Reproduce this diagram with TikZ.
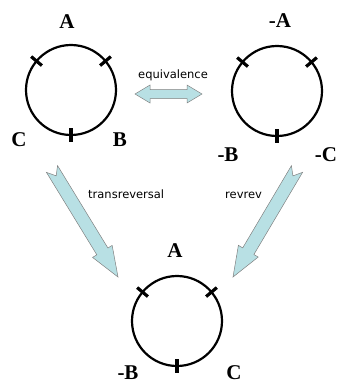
\documentclass[tikz,border=0pt]{standalone}
\usepackage{fontspec}
\setmainfont{Liberation Serif}
\newfontfamily\capfont{DejaVu Sans}
\usetikzlibrary{calc}

% fat arrow with notched tail, from #1 (tail) to #2 (tip)
\newcommand\fatarrow[2]{%
  \draw[fat] ($(#1)!6.5pt!90:(#2)$)
    -- ($(#2)!30pt!(#1)!6.5pt!90:(#2)$) -- ($(#2)!30pt!(#1)!11.5pt!90:(#2)$)
    -- (#2)
    -- ($(#2)!30pt!(#1)!11.5pt!-90:(#2)$) -- ($(#2)!30pt!(#1)!6.5pt!-90:(#2)$)
    -- ($(#1)!6.5pt!-90:(#2)$) -- ($(#1)!8pt!(#2)$) -- cycle;}
% fat arrow with two heads
\newcommand\dblarrow[2]{%
  \draw[fat] (#1)
    -- ($(#1)!15pt!(#2)!9pt!90:(#2)$) -- ($(#1)!15pt!(#2)!4.5pt!90:(#2)$)
    -- ($(#2)!15pt!(#1)!4.5pt!90:(#2)$) -- ($(#2)!15pt!(#1)!9pt!90:(#2)$)
    -- (#2)
    -- ($(#2)!15pt!(#1)!9pt!-90:(#2)$) -- ($(#2)!15pt!(#1)!4.5pt!-90:(#2)$)
    -- ($(#1)!15pt!(#2)!4.5pt!-90:(#2)$) -- ($(#1)!15pt!(#2)!9pt!-90:(#2)$)
    -- cycle;}

\begin{document}
\begin{tikzpicture}[x=1pt, y=-1pt,
    ring/.style={circle, draw, line width=2.2pt, minimum size=90pt, inner sep=0pt},
    tickmark/.style={line width=3.2pt},
    lab/.style={font=\fontsize{21}{24}\selectfont\bfseries, inner sep=0pt},
    captext/.style={font=\capfont\fontsize{11.5}{13}\selectfont, inner sep=0pt},
    fat/.style={fill={rgb,255:red,184;green,224;blue,228}, draw=gray, line width=0.5pt, line join=miter}]
  \useasboundingbox (0,0) rectangle (337,383);

  % --- circles ---
  \node[ring] (c1) at (71,90) {};
  \node[ring] (c2) at (277,91) {};
  \node[ring] (c3) at (177,321) {};
  \foreach \c in {c1,c2,c3} {
    \foreach \a in {40,140,270}
      \draw[tickmark] ($(\c.center)!38pt!(\c.\a)$) -- ($(\c.center)!52pt!(\c.\a)$);
  }

  % --- labels ---
  \node[lab] (a1) at ([shift={(-4,-68)}]c1.center) {A};
  \node[lab] (b1) at ([shift={(49,50)}]c1.center) {B};
  \node[lab] (k1) at ([shift={(-52,50)}]c1.center) {C};
  \node[lab] (a2) at ([shift={(3,-70)}]c2.center) {-A};
  \node[lab] (b2) at ([shift={(-49,64)}]c2.center) {-B};
  \node[lab] (k2) at ([shift={(49,64)}]c2.center) {-C};
  \node[lab] (a3) at ([shift={(-2,-70)}]c3.center) {A};
  \node[lab] (b3) at ([shift={(-49,52)}]c3.center) {-B};
  \node[lab] (k3) at ([shift={(57,52)}]c3.center) {C};

  % --- arrows ---
  \coordinate (eqa) at (135,94);  \coordinate (eqb) at (202,94);
  \coordinate (trs) at (52,169);  \coordinate (tre) at (118,277);
  \coordinate (rvs) at (297,169); \coordinate (rve) at (233,277);
  \dblarrow{eqa}{eqb}
  \fatarrow{trs}{tre}
  \fatarrow{rvs}{rve}
  \node[captext, anchor=base west] (eq) at (138,78) {equivalence};
  \node[captext, anchor=base west] (tr) at (88,198) {transreversal};
  \node[captext, anchor=base west] (rv) at (225,198) {revrev};
\end{tikzpicture}
\end{document}
